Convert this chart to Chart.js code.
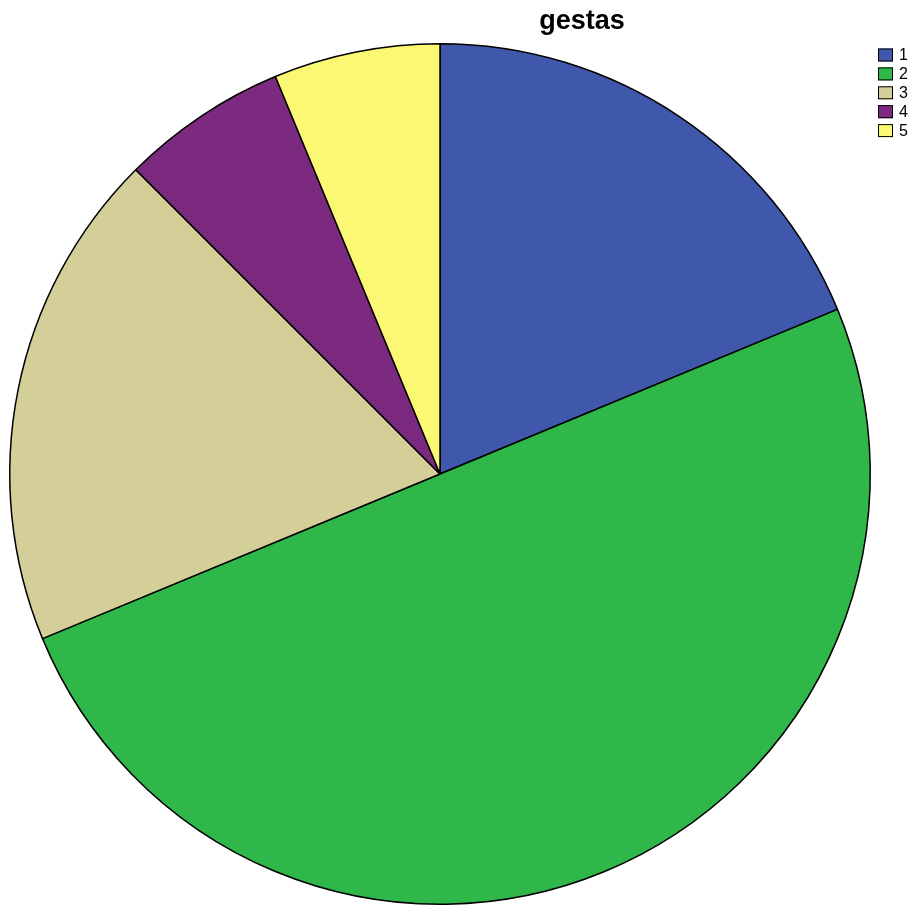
<!DOCTYPE html>
<html>
<head>
<meta charset="utf-8">
<script src="https://cdn.jsdelivr.net/npm/chart.js@4/dist/chart.umd.min.js"></script>
<style>
  html, body { margin: 0; padding: 0; background: #ffffff; }
  #wrap { width: 914px; height: 909px; position: relative; }
</style>
</head>
<body>
<div id="wrap"><canvas id="c" width="914" height="909"></canvas></div>
<script>
// gestas: number of cases per category
const categories = ['1', '2', '3', '4', '5'];
const counts = [6, 16, 6, 2, 2];
const sliceColors = ['#3F58AB', '#2FB74A', '#D4CF99', '#7C2A7F', '#FBF874'];
const chartTitle = 'gestas';

// Title and small square legend drawn in the top-right corner
const decorations = {
  id: 'decorations',
  afterDraw(chart) {
    const ctx = chart.ctx;
    ctx.save();
    ctx.fillStyle = '#000';
    ctx.font = 'bold 27px "Liberation Sans", Arial, sans-serif';
    ctx.textAlign = 'center';
    ctx.textBaseline = 'alphabetic';
    ctx.fillText(chartTitle, 582, 29);

    const labels = chart.data.labels;
    const colors = chart.data.datasets[0].backgroundColor;
    ctx.font = '16px "Liberation Sans", Arial, sans-serif';
    ctx.textAlign = 'left';
    ctx.textBaseline = 'middle';
    labels.forEach((lab, i) => {
      const cy = 55 + i * 18.9;
      ctx.fillStyle = colors[i];
      ctx.fillRect(878, cy - 6.5, 15, 13);
      ctx.strokeStyle = '#000';
      ctx.lineWidth = 1;
      ctx.strokeRect(878.5, cy - 6, 14, 12);
      ctx.fillStyle = '#000';
      ctx.fillText(lab, 899, cy + 1);
    });
    ctx.restore();
  }
};

new Chart(document.getElementById('c'), {
  type: 'pie',
  data: {
    labels: categories,
    datasets: [{
      data: counts,
      backgroundColor: sliceColors,
      borderColor: '#000000',
      borderWidth: 1.5
    }]
  },
  options: {
    responsive: false,
    animation: false,
    layout: { padding: { left: 9, right: 43, top: 43, bottom: 4 } },
    plugins: {
      legend: { display: false },
      title: { display: false },
      tooltip: { enabled: false }
    }
  },
  plugins: [decorations]
});
</script>
</body>
</html>
